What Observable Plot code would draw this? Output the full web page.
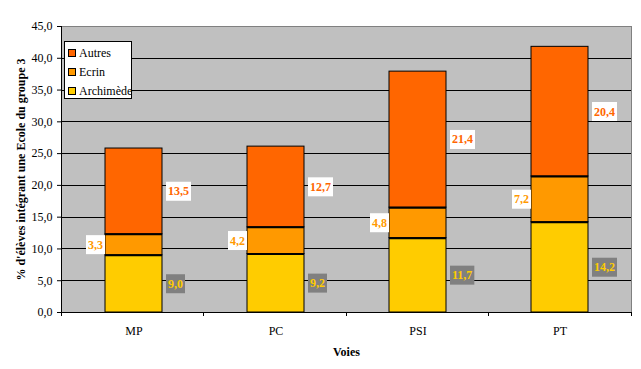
<!DOCTYPE html>
<html><head><meta charset="utf-8">
<script src="https://cdn.jsdelivr.net/npm/d3@7"></script>
<script src="https://cdn.jsdelivr.net/npm/@observablehq/plot@0.6"></script>
<style>
body{margin:0;background:#fff;}
#wrap{position:relative;width:641px;height:369px;font-family:"Liberation Serif","Times New Roman","DejaVu Serif",serif;}
#wrap svg, #wrap svg text{font-family:"Liberation Serif","Times New Roman","DejaVu Serif",serif !important;}
#legend{position:absolute;left:64px;top:41px;width:68px;height:58px;box-sizing:border-box;border:1px solid #000;background:#fff;font-size:12px;color:#000;}
.item{position:absolute;left:3px;height:14px;line-height:14px;white-space:nowrap;}
.sw{display:inline-block;width:6px;height:6px;border:1px solid #000;margin-right:3px;vertical-align:0px;}
</style></head>
<body><div id="wrap"><div id="legend"></div></div>
<script>
const voies = ["MP", "PC", "PSI", "PT"];
const series = ["Archimède", "Ecrin", "Autres"];
const archimede = [9.0, 9.2, 11.7, 14.2];
const ecrin = [3.3, 4.2, 4.8, 7.2];
const autres = [13.5, 12.7, 21.4, 20.4];
const colors = ["#FFCC00", "#FF9900", "#FF6600"];
const yTicks = [0, 5, 10, 15, 20, 25, 30, 35, 40, 45];
const yTitle = "% d'élèves intégrant une Ecole du groupe 3";
const xTitle = "Voies";

const values = [archimede, ecrin, autres];
const rows = [];
voies.forEach((v, i) => {
  let base = 0;
  series.forEach((s, j) => {
    const val = values[j][i];
    rows.push({voie: v, serie: s, si: j, value: val, y1: base, y2: base + val, mid: base + val / 2});
    base += val;
  });
});
const fmt = d => d.toFixed(1).replace(".", ",");

function axesLines(index, scales, vals, dims) {
  const {width: w, height: h, marginLeft: l, marginRight: r, marginTop: t, marginBottom: b} = dims;
  const g = d3.create("svg:g").attr("stroke", "#000").attr("stroke-width", 1).attr("shape-rendering", "crispEdges");
  g.append("line").attr("x1", l).attr("x2", l).attr("y1", t).attr("y2", h - b);
  g.append("line").attr("x1", l).attr("x2", w - r).attr("y1", h - b).attr("y2", h - b);
  const n = voies.length, step = (w - l - r) / n;
  for (let k = 0; k <= n; k++) {
    const x = l + k * step;
    g.append("line").attr("x1", x).attr("x2", x).attr("y1", h - b).attr("y2", h - b + 4);
  }
  return g.node();
}

const labelFont = {fontWeight: "bold", fontSize: 12};

const chart = Plot.plot({
  width: 641,
  height: 369,
  marginLeft: 61,
  marginRight: 10,
  marginTop: 26,
  marginBottom: 57,
  style: "font-size:12px;color:#000;background:#fff;",
  x: {domain: voies, paddingInner: 0.6, paddingOuter: 0.3, axis: null},
  y: {domain: [0, 45], axis: null},
  color: {domain: series, range: colors},
  marks: [
    Plot.frame({fill: "#C0C0C0", stroke: "#808080"}),
    Plot.ruleY(yTicks.filter(d => d > 0 && d < 45), {stroke: "#000", shapeRendering: "crispEdges"}),
    Plot.barY(rows, {x: "voie", y1: "y1", y2: "y2", fill: "serie", stroke: "#000", strokeWidth: 1}),
    Plot.tickY(rows.filter(d => d.si > 0), {x: "voie", y: "y1", stroke: "#000", strokeWidth: 2}),
    axesLines,
    Plot.axisY({ticks: yTicks, tickFormat: fmt, tickSize: 4, tickPadding: 5, label: null, fontSize: 12}),
    Plot.axisX({tickSize: 0, tickPadding: 14, label: null, fontSize: 12}),
    Plot.text([yTitle], {frameAnchor: "left", textAnchor: "middle", rotate: -90, dx: -40, fontWeight: "bold", fontSize: 12}),
    Plot.text([xTitle], {frameAnchor: "bottom", dy: 43, fontWeight: "bold", fontSize: 12}),
    Plot.text(rows.filter(d => d.si === 2), {x: "voie", y: "mid", text: d => fmt(d.value), textAnchor: "start", dx: 34, fill: colors[2], className: "lbl-white", ...labelFont}),
    Plot.text(rows.filter(d => d.si === 1), {x: "voie", y: "mid", text: d => fmt(d.value), textAnchor: "end", dx: -31, fill: colors[1], className: "lbl-white", ...labelFont}),
    Plot.text(rows.filter(d => d.si === 0), {x: "voie", y: "mid", text: d => fmt(d.value), textAnchor: "start", dx: 34, fill: colors[0], className: "lbl-grey", ...labelFont})
  ]
});

const wrap = document.getElementById("wrap");
wrap.insertBefore(chart, wrap.firstChild);

// label boxes behind the data labels
[["lbl-white", "#FFFFFF"], ["lbl-grey", "#808080"]].forEach(([cls, bg]) => {
  chart.querySelectorAll("g." + cls).forEach(g => {
    g.querySelectorAll("text").forEach(t => {
      const bb = t.getBBox();
      const cy = bb.y + bb.height / 2;
      const r = document.createElementNS("http://www.w3.org/2000/svg", "rect");
      r.setAttribute("x", bb.x - 2);
      r.setAttribute("width", bb.width + 4);
      r.setAttribute("y", cy - 9.5);
      r.setAttribute("height", 19);
      r.setAttribute("fill", bg);
      r.setAttribute("stroke", "none");
      const tr = t.getAttribute("transform");
      if (tr) r.setAttribute("transform", tr);
      t.parentNode.insertBefore(r, t);
    });
  });
});

// legend
const legend = document.getElementById("legend");
[2, 1, 0].forEach((j, k) => {
  const it = document.createElement("div");
  it.className = "item";
  it.style.top = (4 + k * 19) + "px";
  const sw = document.createElement("span");
  sw.className = "sw";
  sw.style.background = colors[j];
  it.appendChild(sw);
  it.appendChild(document.createTextNode(series[j]));
  legend.appendChild(it);
});
</script>
</body></html>
